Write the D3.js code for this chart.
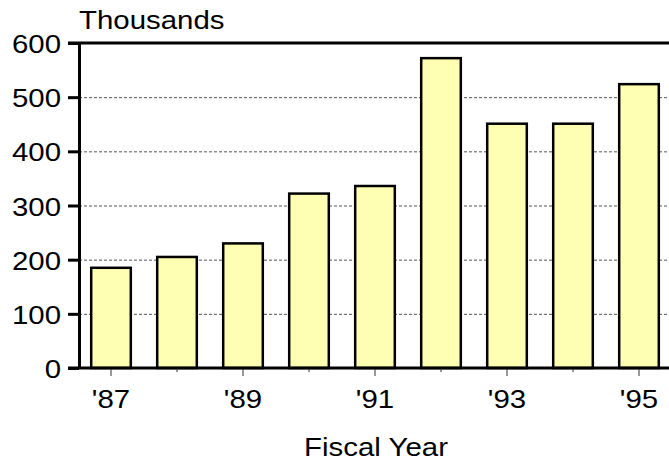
<!DOCTYPE html>
<html>
<head>
<meta charset="utf-8">
<script src="https://cdn.jsdelivr.net/npm/d3@7"></script>
<style>
  body { margin: 0; background: #fff; }
  text { font-family: Arial, "Liberation Sans", sans-serif; fill: #000; }
</style>
</head>
<body>
<div id="chart"></div>
<script>
const years = ["'87", "'88", "'89", "'90", "'91", "'92", "'93", "'94", "'95"];
const values = [185, 205, 230, 322, 336, 572, 451, 451, 524];
const labeledYears = ["'87", "'89", "'91", "'93", "'95"];
const yTicks = [0, 100, 200, 300, 400, 500, 600];

drawbars()

function drawbars() {
	const W = 669, H = 461;
	const fs = 26.5, sx = 1.11; // text looks a bit stretched sideways in the reference

	const svg = d3.select("#chart")
		.append("svg")
		.attr("width", W)
		.attr("height", H);

	const left = 79, top = 43, bottom = 368;

	const x = d3.scaleBand()
		.domain(years)
		.range([78, 672])
		.paddingInner(0.4)
		.paddingOuter(0.2);

	const y = d3.scaleLinear()
		.domain([0, 600])
		.range([bottom, top]);

	// dashed gridlines
	svg.append("g")
		.attr("transform", `translate(${left},0)`)
		.call(d3.axisLeft(y).tickValues([100, 200, 300, 400, 500]).tickSize(-(W - left)).tickFormat(""))
		.call(g => g.select(".domain").remove())
		.selectAll(".tick line")
		.attr("stroke", "#555")
		.attr("stroke-width", 1)
		.attr("stroke-dasharray", "3,2");

	// bars
	svg.append("g")
		.selectAll("rect")
		.data(values)
		.join("rect")
		.attr("x", (d, i) => x(years[i]))
		.attr("y", d => y(d))
		.attr("width", x.bandwidth())
		.attr("height", d => y(0) - y(d))
		.attr("fill", "#ffffb3")
		.attr("stroke", "#000")
		.attr("stroke-width", 2.5);

	// frame lines top and bottom
	svg.append("line")
		.attr("x1", 68).attr("x2", W)
		.attr("y1", y(600)).attr("y2", y(600))
		.attr("stroke", "#000").attr("stroke-width", 3);
	svg.append("line")
		.attr("x1", 68).attr("x2", W)
		.attr("y1", y(0)).attr("y2", y(0))
		.attr("stroke", "#000").attr("stroke-width", 3);

	// y axis
	const yAxis = svg.append("g")
		.attr("class", "y-axis")
		.attr("transform", `translate(${left},0)`)
		.call(d3.axisLeft(y).tickValues(yTicks).tickSize(11).tickSizeOuter(0));
	yAxis.select(".domain").attr("stroke-width", 3);
	yAxis.selectAll(".tick line").attr("stroke-width", 3);
	yAxis.selectAll(".tick text")
		.attr("x", 0)
		.attr("dy", "0.36em")
		.attr("transform", `translate(-18,0) scale(${sx},1)`)
		.style("font-size", fs + "px")
		.style("font-family", "Arial, 'Liberation Sans', sans-serif");

	// x axis
	const xAxis = svg.append("g")
		.attr("class", "x-axis")
		.attr("transform", `translate(0,${bottom + 1})`)
		.call(d3.axisBottom(x).tickSize(7).tickSizeOuter(0)
			.tickFormat(d => labeledYears.includes(d) ? d : ""));
	xAxis.select(".domain").remove();
	xAxis.selectAll(".tick line")
		.attr("stroke", "#333")
		.attr("y2", d => labeledYears.includes(d) ? 7 : 3);
	xAxis.selectAll(".tick text")
		.attr("y", 0)
		.attr("dy", 0)
		.attr("transform", `translate(0,39) scale(${sx},1)`)
		.style("font-size", fs + "px")
		.style("font-family", "Arial, 'Liberation Sans', sans-serif");

	// titles
	svg.append("text")
		.attr("transform", `translate(${left},29) scale(${sx},1)`)
		.style("font-size", fs + "px")
		.text("Thousands");

	svg.append("text")
		.attr("transform", `translate(376,456) scale(${sx},1)`)
		.attr("text-anchor", "middle")
		.style("font-size", fs + "px")
		.text("Fiscal Year");
}
</script>
</body>
</html>
